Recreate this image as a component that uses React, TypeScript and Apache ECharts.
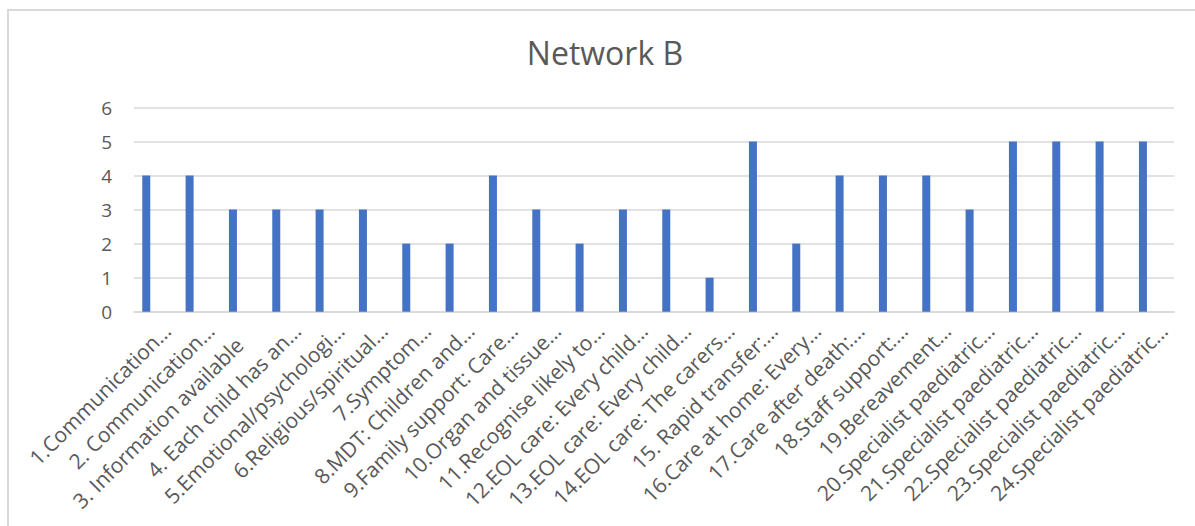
import React, { useEffect, useRef } from "react";
import * as echarts from "echarts";

const title = "Network B";
const categories = [
  "1.Communication…",
  "2. Communication…",
  "3. Information available",
  "4. Each child has an…",
  "5.Emotional/psychologi…",
  "6.Religious/spiritual…",
  "7.Symptom…",
  "8.MDT: Children and…",
  "9.Family support: Care…",
  "10.Organ and tissue…",
  "11.Recognise likely to…",
  "12.EOL care: Every child…",
  "13.EOL care: Every child…",
  "14.EOL care: The carers…",
  "15. Rapid transfer:…",
  "16.Care at home: Every…",
  "17.Care after death:…",
  "18.Staff support:…",
  "19.Bereavement…",
  "20.Specialist paediatric…",
  "21.Specialist paediatric…",
  "22.Specialist paediatric…",
  "23.Specialist paediatric…",
  "24.Specialist paediatric…",
];
const values = [4, 4, 3, 3, 3, 3, 2, 2, 4, 3, 2, 3, 3, 1, 5, 2, 4, 4, 4, 3, 5, 5, 5, 5];
const spacer: number[] = [];

const FONT = "'Open Sans', sans-serif";
const TEXT = "#595959";
const GRID = "#d9d9d9";
const XFS = 21;

export default function App() {
  const ref = useRef<HTMLDivElement>(null);
  useEffect(() => {
    if (!ref.current) return;
    const chart = echarts.init(ref.current, null, { renderer: "svg" });
    chart.setOption({
      animation: false,
      title: {
        text: title,
        left: "center",
        top: 20,
        textStyle: { fontFamily: FONT, fontSize: 32, fontWeight: 400, color: TEXT },
      },
      grid: { left: 125, right: 27, top: 96.5, bottom: 215.3, containLabel: false },
      xAxis: {
        type: "category",
        data: categories,
        axisLine: { show: true, lineStyle: { color: GRID, width: 1.5 } },
        axisTick: { show: false },
        axisLabel: {
          interval: 0,
          rotate: 45,
          margin: 4,
          verticalAlign: "top",
          lineHeight: 32,
          color: TEXT,
          fontFamily: FONT,
          fontSize: XFS,
          formatter: (v: string, i: number) => (i === 2 ? `{gap|${v}}` : v),
          rich: {
            gap: {
              padding: [0, 20, 0, 0],
              fontSize: XFS,
              fontFamily: FONT,
              color: TEXT,
              lineHeight: 32,
            },
          },
        },
      },
      yAxis: {
        type: "value",
        min: 0,
        max: 6,
        interval: 1,
        axisLine: { show: false },
        axisTick: { show: false },
        splitLine: { lineStyle: { color: GRID, width: 1.5 } },
        axisLabel: { color: TEXT, fontFamily: FONT, fontSize: 19, margin: 22 },
      },
      series: [
        {
          type: "bar",
          data: values,
          barWidth: 8,
          barGap: "135%",
          itemStyle: { color: "#4472C4" },
        },
        {
          type: "bar",
          data: spacer,
          barWidth: 8,
        },
      ],
    });
    return () => chart.dispose();
  }, []);
  return (
    <div
      style={{
        position: "absolute",
        left: 7,
        top: 9,
        width: 1196,
        height: 520,
        border: "2px solid #d9d9d9",
        boxSizing: "border-box",
        background: "#fff",
      }}
    >
      <div ref={ref} style={{ width: 1192, height: 516 }} />
    </div>
  );
}
